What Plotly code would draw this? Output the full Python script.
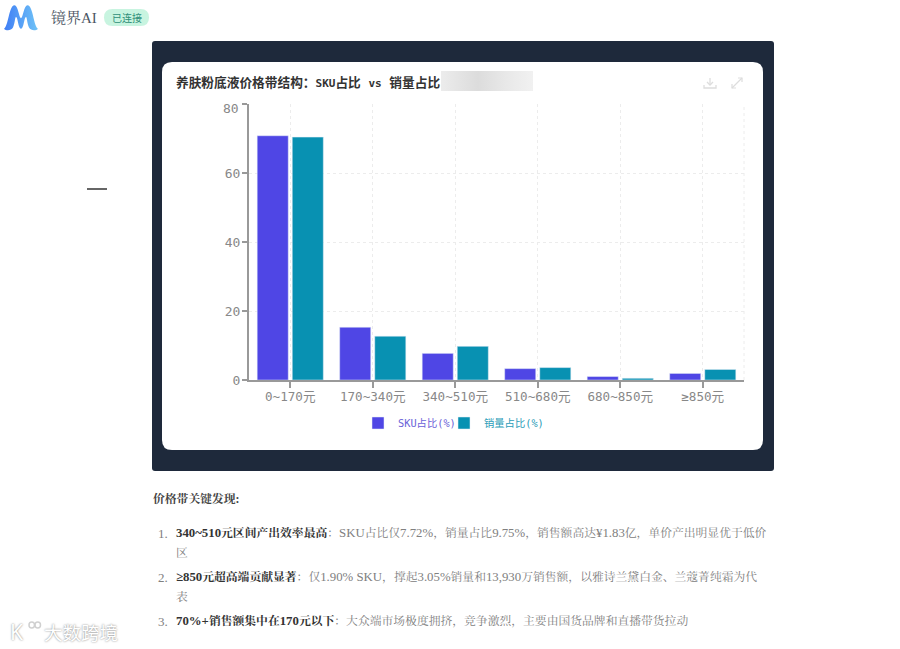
import base64
import re
import plotly.graph_objects as go

# 数据
categories = ['0~170元', '170~340元', '340~510元', '510~680元', '680~850元', '≥850元']
sku_share = [70.8, 15.3, 7.72, 3.3, 1.0, 1.90]
sales_share = [70.4, 12.7, 9.75, 3.6, 0.5, 3.05]
y_ticks = [0, 20, 40, 60, 80]

W, H = 900, 649
PLOT_L, PLOT_R, PLOT_T, PLOT_B = 249, 744, 104, 380
MONO = 'DejaVu Sans Mono, Noto Sans CJK SC'
SERIF = 'Liberation Serif, Noto Serif CJK SC, Noto Sans CJK SC'
GRID = '#ececec'
GRID_DASH = '3px,3px'


def px(x):
    return (x - PLOT_L) / (PLOT_R - PLOT_L)


def py(y):
    return (PLOT_B - y) / (PLOT_B - PLOT_T)


def rect_path(x0, y0, x1, y1, r):
    return (f'M{px(x0 + r)},{py(y0)} L{px(x1 - r)},{py(y0)} Q{px(x1)},{py(y0)} {px(x1)},{py(y0 + r)} '
            f'L{px(x1)},{py(y1 - r)} Q{px(x1)},{py(y1)} {px(x1 - r)},{py(y1)} '
            f'L{px(x0 + r)},{py(y1)} Q{px(x0)},{py(y1)} {px(x0)},{py(y1 - r)} '
            f'L{px(x0)},{py(y0 + r)} Q{px(x0)},{py(y0)} {px(x0 + r)},{py(y0)} Z')


def polyline(points):
    return 'M' + ' L'.join(f'{px(x)},{py(y)}' for x, y in points)


def svg_uri(svg):
    return 'data:image/svg+xml;base64,' + base64.b64encode(svg.encode('utf-8')).decode('ascii')


def note(x, y, text, size=11.8, color='#808080', family=SERIF, anchor='left'):
    return dict(xref='paper', yref='paper', x=px(x), y=py(y), text=text, showarrow=False,
                xanchor=anchor, yanchor='middle', align='left', borderpad=0,
                font=dict(family=family, size=size, color=color))


def latin(text, size):
    # 拉丁字符和数字比中文字号略大/略小
    return re.sub(r'[0-9A-Za-z.,%+~¥≥]+(?: [0-9A-Za-z.,%+~¥≥]+)*',
                  lambda m: f'<span style="font-size:{size}px">{m.group(0)}</span>', text)


def finding(bold, rest):
    return f'<b style="color:#333333">{latin(bold, 12.8)}</b>{latin(rest, 12.8)}'


logo_svg = ('<svg xmlns="http://www.w3.org/2000/svg" width="36" height="24" viewBox="0 0 36 24">'
            '<defs><linearGradient id="g" x1="0" y1="0" x2="1" y2="0">'
            '<stop offset="0" stop-color="#3f7df5"/><stop offset="1" stop-color="#6fc3f7"/>'
            '</linearGradient></defs>'
            '<path d="M1 22 C5 21 6 3 11 2 C15 1 16 13 18 13 C20 13 21 1 25 2 C30 3 31 21 35 22 '
            'C33 24 28 24 26 21 C24 17 24 12 23 12 C21 12 21 22 18 22 C15 22 15 12 13 12 '
            'C12 12 12 17 10 21 C8 24 3 24 1 22 Z" fill="url(#g)"/></svg>')

blur_svg = ('<svg xmlns="http://www.w3.org/2000/svg" width="92" height="20" viewBox="0 0 92 20">'
            '<defs><linearGradient id="b" x1="0" y1="0" x2="1" y2="0">'
            '<stop offset="0" stop-color="#ececec"/><stop offset="0.4" stop-color="#dcdcdc"/>'
            '<stop offset="0.7" stop-color="#e8e8e8"/><stop offset="1" stop-color="#f1f1f1"/>'
            '</linearGradient></defs><rect width="92" height="20" fill="url(#b)"/></svg>')

fig = go.Figure()
fig.add_trace(go.Bar(x=categories, y=sku_share, name='SKU占比(%)', marker_color='#4f46e5',
                     legend='legend', showlegend=True))
fig.add_trace(go.Bar(x=categories, y=sales_share, name='销量占比(%)', marker_color='#0891b2',
                     legend='legend2', showlegend=True))

shapes = [
    # 深色面板和白色卡片
    dict(type='path', path=rect_path(152, 41, 774, 471, 3), fillcolor='#1e293b', line_width=0, layer='below'),
    dict(type='path', path=rect_path(162, 62, 763, 450, 10), fillcolor='#ffffff', line_width=0, layer='below'),
    # 顶部“已连接”标签
    dict(type='path', path=rect_path(104, 9, 149, 26, 8.5), fillcolor='#c8f4e0', line_width=0, layer='below'),
    # 左侧短横线
    dict(type='line', x0=px(87), x1=px(107), y0=py(189), y1=py(189),
         line=dict(color='#666666', width=2), layer='below'),
    # 绘图区右边虚线
    dict(type='line', x0=1, x1=1, y0=0, y1=1, line=dict(color=GRID, width=1, dash=GRID_DASH), layer='below'),
    # 下载图标
    dict(type='path', path=polyline([(710, 78), (710, 85)]), line=dict(color='#dddddd', width=1.3)),
    dict(type='path', path=polyline([(707, 82), (710, 85), (713, 82)]), line=dict(color='#dddddd', width=1.3)),
    dict(type='path', path=polyline([(704, 85), (704, 88), (716, 88), (716, 85)]), line=dict(color='#dddddd', width=1.3)),
    # 全屏图标
    dict(type='path', path=polyline([(732, 88), (742, 78)]), line=dict(color='#dddddd', width=1.2)),
    dict(type='path', path=polyline([(738, 78), (742, 78), (742, 82)]), line=dict(color='#dddddd', width=1.2)),
    dict(type='path', path=polyline([(732, 84), (732, 88), (736, 88)]), line=dict(color='#dddddd', width=1.2)),
    # 水印 logo 的两个小圆
    dict(type='circle', x0=px(29), x1=px(34.5), y0=py(622), y1=py(628), line=dict(color='#d0d0d0', width=1.5)),
    dict(type='circle', x0=px(35), x1=px(40.5), y0=py(622), y1=py(628), line=dict(color='#d0d0d0', width=1.5)),
]
for s in shapes:
    s.setdefault('xref', 'paper')
    s.setdefault('yref', 'paper')

annotations = [
    note(49.5, 18, '镜界AI', size=15, color='#4b5563'),
    note(126.5, 18, '已连接', size=10, color='#2f8f78', family='Noto Sans CJK SC', anchor='center'),
    note(240, 109, '80', size=13, color='#888888', family=MONO, anchor='right'),
    note(152, 499, '<b>价格带关键发现:</b>', color='#444444'),
    note(157, 533, '1.', size=13),
    note(174.5, 533, finding('340~510元区间产出效率最高', '：SKU占比仅7.72%，销量占比9.75%，销售额高达¥1.83亿，单价产出明显优于低价')),
    note(175, 553, '区'),
    note(157, 577, '2.', size=13),
    note(174.5, 577, finding('≥850元超高端贡献显著', '：仅1.90% SKU，撑起3.05%销量和13,930万销售额，以雅诗兰黛白金、兰蔻菁纯霜为代')),
    note(175, 597, '表'),
    note(157, 621, '3.', size=13),
    note(174.5, 621, finding('70%+销售额集中在170元以下', '：大众端市场极度拥挤，竞争激烈，主要由国货品牌和直播带货拉动')),
    note(9, 632, 'K', size=21, color='#ffffff', family='Noto Sans'),
    note(43, 632, '大数跨境', size=18.5, color='#ffffff', family='Noto Sans CJK SC'),
]
# 水印文字加一点灰色描边效果
for a in annotations[-2:]:
    a['font']['shadow'] = '0 0 2px #777777'

fig.update_layout(
    width=W,
    height=H,
    autosize=False,
    margin=dict(l=PLOT_L, r=W - PLOT_R, t=PLOT_T, b=H - PLOT_B, pad=0),
    paper_bgcolor='#ffffff',
    plot_bgcolor='rgba(0,0,0,0)',
    barmode='group',
    bargap=0.15,
    bargroupgap=0.114,
    showlegend=True,
    title=dict(text='<b>' + latin('养肤粉底液价格带结构：SKU占比 vs 销量占比', 11) + '</b>', xref='container', yref='container',
               x=176 / W, y=1 - 83 / H, xanchor='left', yanchor='middle',
               font=dict(family=MONO, size=12.7, color='#333333')),
    xaxis=dict(type='category', range=[-0.5, 5.5], showline=True, linecolor='#999999', linewidth=2,
               ticks='outside', ticklen=6, tickcolor='#999999', tickwidth=1.5, ticklabelstandoff=-2,
               showgrid=True, gridcolor=GRID, griddash=GRID_DASH, gridwidth=1, zeroline=False,
               tickfont=dict(family=MONO, size=12.6, color='#888888')),
    yaxis=dict(range=[0, 80], tickvals=y_ticks, ticktext=[str(v) if v != 80 else '' for v in y_ticks],
               showline=True, linecolor='#999999', linewidth=2,
               ticks='outside', ticklen=5, tickcolor='#999999', tickwidth=1.5, ticklabelstandoff=-1,
               showgrid=True, gridcolor=GRID, griddash=GRID_DASH, gridwidth=1, zeroline=False,
               tickfont=dict(family=MONO, size=13, color='#888888')),
    legend=dict(orientation='h', x=px(358), y=py(423), xanchor='left', yanchor='middle',
                bgcolor='rgba(0,0,0,0)', font=dict(family=MONO, size=10.3, color='#6a62d8')),
    legend2=dict(orientation='h', x=px(444), y=py(423), xanchor='left', yanchor='middle',
                 bgcolor='rgba(0,0,0,0)', font=dict(family=MONO, size=10.3, color='#2b9cb8')),
    shapes=shapes,
    annotations=annotations,
    images=[
        dict(source=svg_uri(logo_svg), xref='paper', yref='paper', x=px(3), y=py(3), sizex=36 / (PLOT_R - PLOT_L),
             sizey=28 / (PLOT_B - PLOT_T), xanchor='left', yanchor='top', sizing='stretch', layer='above'),
        dict(source=svg_uri(blur_svg), xref='paper', yref='paper', x=px(441), y=py(71), sizex=92 / (PLOT_R - PLOT_L),
             sizey=20 / (PLOT_B - PLOT_T), xanchor='left', yanchor='top', sizing='stretch', layer='above'),
    ],
)

fig.write_html('out.html', config={'displayModeBar': False},
               post_script="document.body.style.margin='0';document.documentElement.style.overflow='hidden';")
